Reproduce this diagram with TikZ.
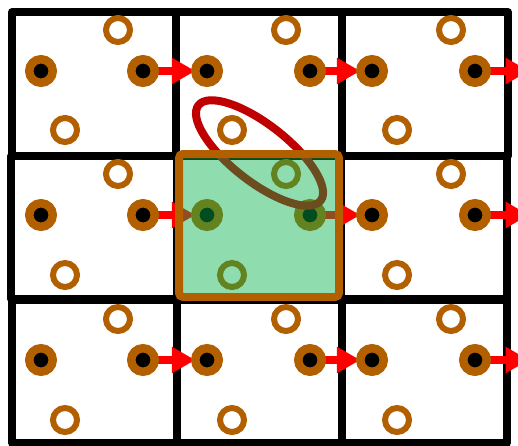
\documentclass[tikz,border=0pt]{standalone}
\usetikzlibrary{arrows.meta}
\pgfdeclarelayer{gridlayer}
\pgfdeclarelayer{arrowlayer}
\pgfdeclarelayer{toplayer}
\pgfsetlayers{gridlayer,arrowlayer,main,toplayer}
\definecolor{ringc}{RGB}{178,95,0}
\definecolor{ellred}{RGB}{192,0,0}
\definecolor{boxgreen}{RGB}{0,177,75}
\begin{document}
\begin{tikzpicture}[x=1pt,y=-1pt,
  filled/.style={circle,draw=ringc,fill=black,line width=8.5pt,minimum size=23.5pt,inner sep=0pt,outer sep=0pt},
  hollow/.style={circle,draw=ringc,fill=white,line width=6pt,minimum size=24pt,inner sep=0pt},
  cellbox/.style={draw=black,line width=7.5pt,line join=round},
  arr/.style={draw=red,line width=8pt,-{Triangle[length=23.5pt,width=25pt]}},
  ringline/.style={draw=ellred,line width=8pt},
  selbox/.style={draw=ringc,line width=8pt,fill=boxgreen,fill opacity=0.44,rounded corners=4pt}]
\useasboundingbox (0,0) rectangle (518,445);

% background and grid cells
\begin{pgfonlayer}{gridlayer}
\fill[white] (0,0) rectangle (518,445);
\draw[cellbox] (12,12) rectangle (176,156);
\draw[cellbox] (176,12) rectangle (342,156);
\draw[cellbox] (342,12) rectangle (508,156);
\draw[cellbox] (11,156) rectangle (177,299);
\draw[cellbox] (177,156) rectangle (341,299);
\draw[cellbox] (341,156) rectangle (507,299);
\draw[cellbox] (12,300) rectangle (177,443);
\draw[cellbox] (177,300) rectangle (342,443);
\draw[cellbox] (342,300) rectangle (507,443);
\end{pgfonlayer}

% points
\foreach \c/\L/\R/\T/\B in {1/41/143/118/65, 2/207/310/286/232, 3/372/475/451/397}{
  \foreach \r/\Y/\YT/\YB in {1/71/30/130, 2/215/174/275, 3/360/319/420}{
    \node[filled] (l\r\c) at (\L,\Y) {};
    \node[filled] (r\r\c) at (\R,\Y) {};
    \node[hollow] (t\r\c) at (\T,\YT) {};
    \node[hollow] (b\r\c) at (\B,\YB) {};
  }
}
\coordinate (e1) at (529,71);
\coordinate (e2) at (529,215);
\coordinate (e3) at (529,360);

% arrows
\begin{pgfonlayer}{arrowlayer}
\foreach \r in {1,2,3}{
  \draw[arr] (r\r1.center) -- (l\r2.west);
  \draw[arr] (r\r2.center) -- (l\r3.west);
  \draw[arr] (r\r3.center) -- (e\r);
}
\end{pgfonlayer}

% red ellipse
\draw[ringline, rotate around={-38:(259.5,153)}] (259.5,153) ellipse [x radius=77.5, y radius=28.5];

% highlighted cell
\begin{pgfonlayer}{toplayer}
\draw[selbox] (179,154) rectangle (339,297);
\end{pgfonlayer}
\end{tikzpicture}
\end{document}
